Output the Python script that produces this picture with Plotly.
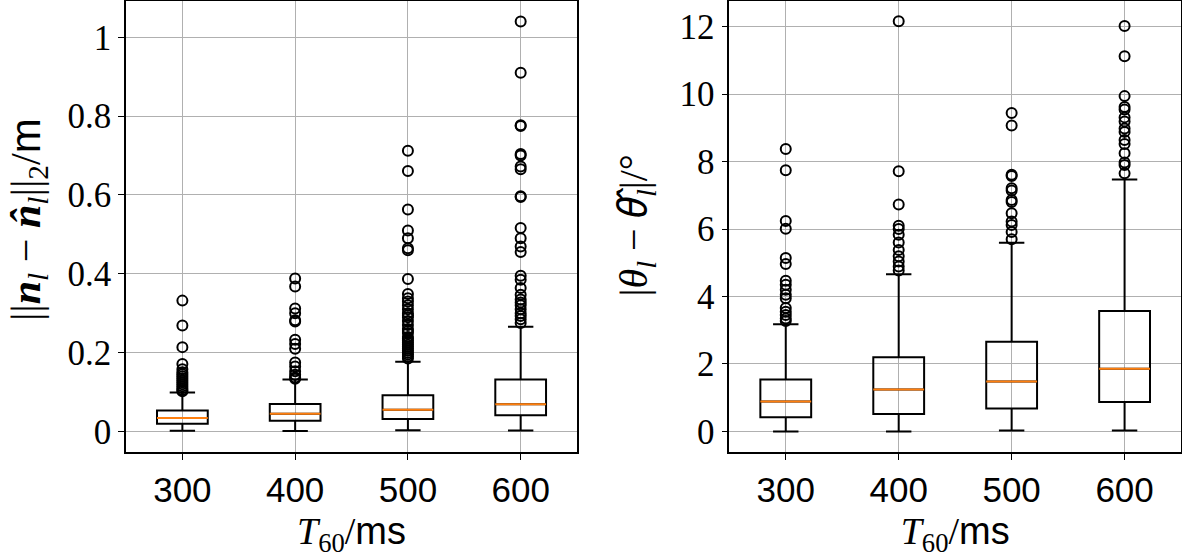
import plotly.graph_objects as go
from plotly.subplots import make_subplots

# reverberation times (x categories)
t60 = [300, 400, 500, 600]

# left panel: position error ||n - n_hat||_2 in m
pos_q1 = [0.0195, 0.027, 0.032, 0.041]
pos_med = [0.034, 0.045, 0.055, 0.069]
pos_q3 = [0.053, 0.070, 0.092, 0.132]
pos_lo = [0.002, 0.001, 0.003, 0.0025]
pos_hi = [0.099, 0.132, 0.177, 0.266]
pos_out = [
    [0.332, 0.269, 0.214, 0.171, 0.158, 0.150, 0.145, 0.140, 0.135, 0.130,
     0.125, 0.120, 0.115, 0.110, 0.105, 0.102],
    [0.388, 0.368, 0.312, 0.300, 0.282, 0.279, 0.233, 0.222, 0.210, 0.175,
     0.165, 0.153, 0.144, 0.137, 0.134],
    [0.712, 0.661, 0.563, 0.510, 0.490, 0.465, 0.460, 0.387, 0.349, 0.338,
     0.330, 0.320, 0.310, 0.300, 0.295, 0.290, 0.280, 0.270, 0.260, 0.255,
     0.250, 0.240, 0.235, 0.230, 0.225, 0.220, 0.215, 0.210, 0.205, 0.200,
     0.195, 0.190, 0.185],
    [1.040, 0.910, 0.777, 0.775, 0.704, 0.700, 0.672, 0.665, 0.597, 0.595,
     0.516, 0.490, 0.469, 0.455, 0.395, 0.385, 0.364, 0.347, 0.335, 0.327,
     0.320, 0.310, 0.300, 0.293, 0.285, 0.275],
]

# right panel: angle error |theta - theta_hat| in degrees
ang_q1 = [0.42, 0.52, 0.68, 0.87]
ang_med = [0.89, 1.24, 1.48, 1.86]
ang_q3 = [1.54, 2.20, 2.66, 3.57]
ang_lo = [0.0, 0.0, 0.03, 0.03]
ang_hi = [3.18, 4.66, 5.59, 7.47]
ang_out = [
    [8.37, 7.74, 6.24, 6.01, 5.14, 4.96, 4.47, 4.35, 4.20, 4.05, 3.95, 3.66,
     3.55, 3.45, 3.35, 3.27],
    [12.16, 7.71, 6.73, 6.10, 6.00, 5.83, 5.60, 5.38, 5.19, 5.04, 4.89, 4.77],
    [9.44, 9.07, 7.61, 7.57, 7.21, 7.14, 6.86, 6.80, 6.47, 6.22, 6.12, 5.91,
     5.70],
    [12.02, 11.12, 9.94, 9.62, 9.54, 9.31, 9.19, 8.98, 8.88, 8.64, 8.52,
     8.25, 7.97, 7.90, 7.65],
]

BOXW = 45
SERIF = "Liberation Serif"
SANS = "Liberation Sans"

fig = make_subplots(rows=1, cols=2, horizontal_spacing=0.13)


def add_panel(col, q1, med, q3, lo, hi, out):
    fig.add_trace(go.Box(
        x=t60, q1=q1, median=med, q3=q3, lowerfence=lo, upperfence=hi,
        width=BOXW, whiskerwidth=0.5, fillcolor="rgba(0,0,0,0)",
        line=dict(color="black", width=2), boxpoints=False,
        showlegend=False, hoverinfo="skip"), row=1, col=col)
    # orange median lines
    mx, my = [], []
    for x, m in zip(t60, med):
        mx += [x - BOXW / 2, x + BOXW / 2, None]
        my += [m, m, None]
    fig.add_trace(go.Scatter(x=mx, y=my, mode="lines",
                             line=dict(color="#ff7f0e", width=2),
                             showlegend=False, hoverinfo="skip"), row=1, col=col)
    ox, oy = [], []
    for x, vals in zip(t60, out):
        ox += [x] * len(vals)
        oy += vals
    fig.add_trace(go.Scatter(x=ox, y=oy, mode="markers",
                             marker=dict(symbol="circle-open", size=10,
                                         color="black", line=dict(width=2)),
                             showlegend=False, hoverinfo="skip"), row=1, col=col)


add_panel(1, pos_q1, pos_med, pos_q3, pos_lo, pos_hi, pos_out)
add_panel(2, ang_q1, ang_med, ang_q3, ang_lo, ang_hi, ang_out)

axis_common = dict(showline=True, linecolor="black", linewidth=1.5, mirror=True,
                   ticks="outside", ticklen=6, tickcolor="black", automargin=False,
                   showgrid=True, gridcolor="#b0b0b0", gridwidth=1, zeroline=False)

xtitle = f"<i>T</i><sub>60</sub>/<span style='font-family:{SANS}'>ms</span>"
for c, dom in [(1, [0.1066, 0.4882]), (2, [0.617, 0.9992])]:
    fig.update_xaxes(axis_common, domain=dom, range=[250, 650], tickvals=t60,
                     tickfont=dict(family=SANS, size=35, color="black"),
                     title=dict(text=xtitle, font=dict(family=SERIF, size=38, color="black"),
                                standoff=10),
                     row=1, col=c)

fig.update_yaxes(axis_common, range=[-0.052, 1.092],
                 tickvals=[0, 0.2, 0.4, 0.6, 0.8, 1],
                 ticktext=["0", "0.2", "0.4", "0.6", "0.8", "1"],
                 tickfont=dict(family=SERIF, size=35, color="black"),
                 row=1, col=1)
fig.update_yaxes(axis_common, range=[-0.61, 12.76],
                 tickvals=[0, 2, 4, 6, 8, 10, 12],
                 tickfont=dict(family=SERIF, size=35, color="black"),
                 row=1, col=2)

# y-axis labels
fig.add_annotation(text="||<b><i>n</i></b><sub><i>l</i></sub> − <b><i>n̂</i></b><sub><i>l</i></sub>||<sub>2</sub>/"
                        f"<span style='font-family:{SANS}'>m</span>",
                   xref="paper", yref="paper", x=0.024, y=0.515, textangle=-90,
                   xanchor="center", yanchor="middle", showarrow=False,
                   font=dict(family=SERIF, size=42, color="black"))
fig.add_annotation(text="|<i>θ</i><sub><i>l</i></sub> − "
                        "<span style='font-family:Noto Sans'><i>θ̂</i></span>"
                        "<sub><i>l</i></sub>|/°",
                   xref="paper", yref="paper", x=0.535, y=0.503, textangle=-90,
                   xanchor="center", yanchor="middle", showarrow=False,
                   font=dict(family=SERIF, size=40, color="black"))

fig.update_layout(width=1182, height=558, plot_bgcolor="white", paper_bgcolor="white",
                  margin=dict(l=0, r=0, t=1, b=106))

fig.write_html("out.html", config={"displayModeBar": False},
               post_script="document.body.style.margin='0';")
